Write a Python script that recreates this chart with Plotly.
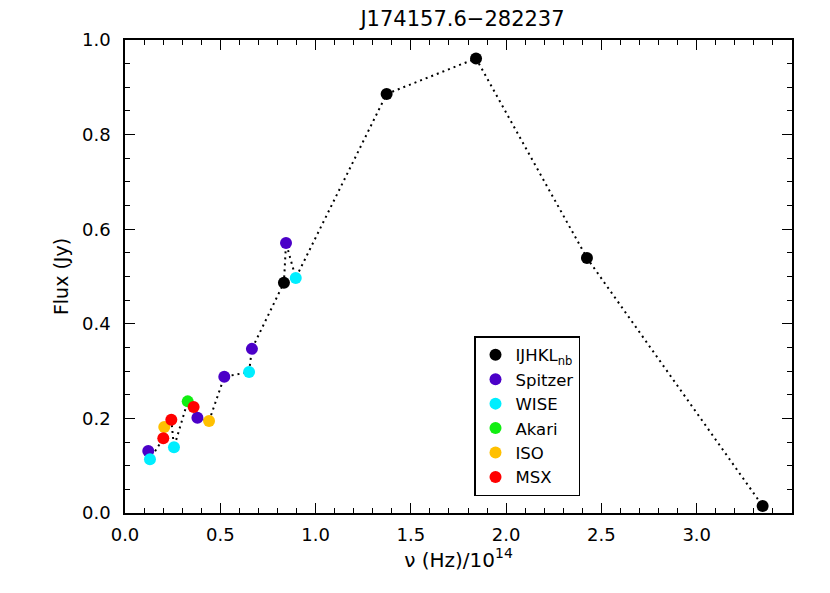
import plotly.graph_objects as go

# frequencies (10^14 Hz) and fluxes (Jy) per instrument
ijhkl_nu = [0.834, 1.373, 1.842, 2.424, 3.346]
ijhkl_f = [0.487, 0.886, 0.961, 0.539, 0.015]
spitzer_nu = [0.122, 0.380, 0.521, 0.666, 0.845]
spitzer_f = [0.131, 0.2015, 0.288, 0.347, 0.571]
wise_nu = [0.131, 0.257, 0.651, 0.896]
wise_f = [0.1135, 0.139, 0.298, 0.497]
akari_nu = [0.329]
akari_f = [0.236]
iso_nu = [0.206, 0.441]
iso_f = [0.182, 0.1945]
msx_nu = [0.201, 0.243, 0.360]
msx_f = [0.158, 0.197, 0.224]

x_ticks = [0.0, 0.5, 1.0, 1.5, 2.0, 2.5, 3.0]
y_ticks = [0.0, 0.2, 0.4, 0.6, 0.8, 1.0]

series = [
    ("IJHKL<sub>nb</sub>", ijhkl_nu, ijhkl_f, "#000000"),
    ("Spitzer", spitzer_nu, spitzer_f, "#4B00C8"),
    ("WISE", wise_nu, wise_f, "#00EEFF"),
    ("Akari", akari_nu, akari_f, "#11EE11"),
    ("ISO", iso_nu, iso_f, "#FFC000"),
    ("MSX", msx_nu, msx_f, "#FF0000"),
]

allpts = sorted(
    [(x, y) for _, xs, ys, _ in series for x, y in zip(xs, ys)]
)

FONT = "DejaVu Sans"
# page has an 8px body margin: figure origin sits at (8, 8)
W, H = 822, 585
L, T = 117, 32
PW, PH = 667, 473

fig = go.Figure()
fig.add_trace(go.Scatter(
    x=[p[0] for p in allpts], y=[p[1] for p in allpts], mode="lines",
    line=dict(color="black", width=2, dash="2px,4px"), showlegend=False,
    hoverinfo="skip"))
for name, xs, ys, col in series:
    fig.add_trace(go.Scatter(x=xs, y=ys, mode="markers", name=name,
                             marker=dict(color=col, size=12, line=dict(width=0))))

axis_common = dict(
    showgrid=False, zeroline=False, showline=True, linecolor="black",
    linewidth=1.5, mirror="allticks", ticks="inside", ticklen=10,
    tickwidth=1.2, tickcolor="black",
    tickfont=dict(family=FONT, size=18, color="black"),
)
fig.update_layout(
    width=W, height=H,
    margin=dict(l=L, r=W - L - PW, t=T, b=H - T - PH),
    paper_bgcolor="white", plot_bgcolor="white",
    title=dict(text="J174157.6\u2212282237", x=(L + PW / 2 + 4) / W,
               xanchor="center", y=1 - 11 / H, yanchor="middle",
               font=dict(family=FONT, size=21, color="black")),
    xaxis=dict(range=[0, 3.5], tickvals=x_ticks, tickformat=".1f",
               minor=dict(dtick=0.1, ticks="inside", ticklen=5,
                          tickcolor="black", tickwidth=1.2),
               ticklabelstandoff=5,
               title=dict(text="\u03bd (Hz)/10<sup>14</sup>", standoff=0,
                          font=dict(family=FONT, size=20, color="black")),
               **axis_common),
    yaxis=dict(range=[0, 1.0], tickvals=y_ticks, tickformat=".1f",
               minor=dict(dtick=0.05, ticks="inside", ticklen=5,
                          tickcolor="black", tickwidth=1.2),
               ticklabelstandoff=9,
               title=dict(text="Flux (Jy)", standoff=8,
                          font=dict(family=FONT, size=19, color="black")),
               **axis_common),
    legend=dict(x=(474 - 125) / PW, y=(513 - 336) / PH, xanchor="left",
                yanchor="top", bordercolor="black", borderwidth=1.5,
                bgcolor="white", font=dict(family=FONT, size=16.5, color="black"),
                itemsizing="constant", tracegroupgap=0),
    showlegend=True,
)
fig.write_html("out.html")
